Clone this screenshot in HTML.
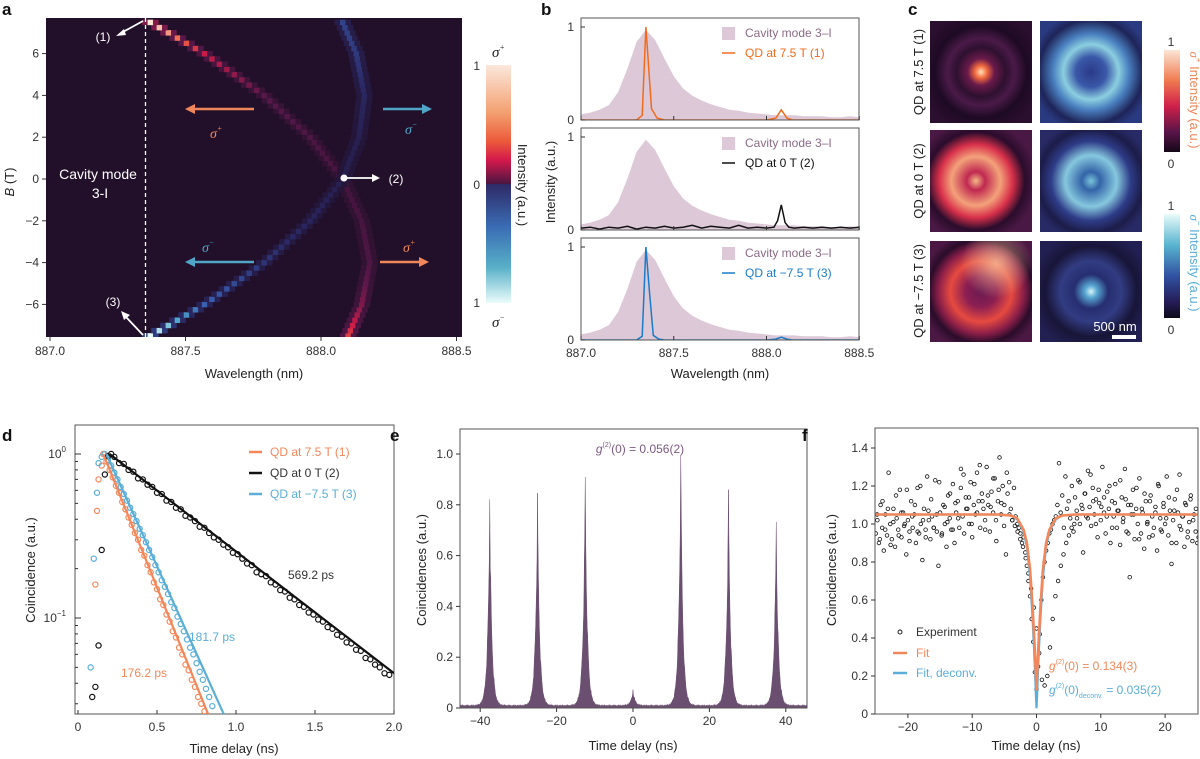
<!DOCTYPE html>
<html><head><meta charset="utf-8">
<style>
html,body{margin:0;padding:0;background:#fff;}
svg{display:block;font-family:"Liberation Sans","DejaVu Sans",sans-serif;}
.t{font-size:12px;fill:#333;}
.lab{font-size:13px;fill:#222;}
.pl{font-size:17px;font-weight:bold;fill:#111;}
</style></head>
<body>
<svg id="fig" width="1200" height="759" viewBox="0 0 1200 759" xmlns="http://www.w3.org/2000/svg">
<defs>
<linearGradient id="cbA" x1="0" y1="0" x2="0" y2="1">
<stop offset="0" stop-color="#fbe8dc"/><stop offset="0.2" stop-color="#f3a070"/><stop offset="0.32" stop-color="#ec5a3a"/><stop offset="0.4" stop-color="#d4184c"/><stop offset="0.5" stop-color="#4a1640"/><stop offset="0.5" stop-color="#2f2a66"/><stop offset="0.68" stop-color="#3a6cb4"/><stop offset="0.85" stop-color="#58b0c8"/><stop offset="1" stop-color="#eafcfb"/>
</linearGradient>
<linearGradient id="cbP" x1="0" y1="0" x2="0" y2="1">
<stop offset="0" stop-color="#fbe5d5"/><stop offset="0.3" stop-color="#f07a50"/><stop offset="0.55" stop-color="#d0204a"/><stop offset="0.8" stop-color="#5a1548"/><stop offset="1" stop-color="#140818"/>
</linearGradient>
<linearGradient id="cbM" x1="0" y1="0" x2="0" y2="1">
<stop offset="0" stop-color="#e8fbf9"/><stop offset="0.3" stop-color="#58b4d0"/><stop offset="0.6" stop-color="#3050a0"/><stop offset="0.85" stop-color="#251c55"/><stop offset="1" stop-color="#0c0a1a"/>
</linearGradient>
<radialGradient id="g11" cx="0.5" cy="0.5" r="0.6"><stop offset="0" stop-color="#ffe0b8"/><stop offset="0.1" stop-color="#f26a3e"/><stop offset="0.22" stop-color="#6a1a4a"/><stop offset="0.4" stop-color="#2e1030"/><stop offset="0.55" stop-color="#4a1a48"/><stop offset="0.75" stop-color="#1e0a24"/><stop offset="1" stop-color="#2a0f2e"/></radialGradient>
<radialGradient id="g12" cx="0.5" cy="0.5" r="0.6"><stop offset="0" stop-color="#2a3a88"/><stop offset="0.25" stop-color="#3a58a8"/><stop offset="0.45" stop-color="#8ccfe0"/><stop offset="0.62" stop-color="#4a80c0"/><stop offset="0.85" stop-color="#1e2458"/><stop offset="1" stop-color="#2a3a80"/></radialGradient>
<radialGradient id="g21" cx="0.45" cy="0.5" r="0.6"><stop offset="0" stop-color="#f5b888"/><stop offset="0.15" stop-color="#c02850"/><stop offset="0.4" stop-color="#f3a27a"/><stop offset="0.6" stop-color="#d8304a"/><stop offset="0.8" stop-color="#2a0c2c"/><stop offset="1" stop-color="#4a1844"/></radialGradient>
<radialGradient id="g22" cx="0.5" cy="0.5" r="0.6"><stop offset="0" stop-color="#78c4da"/><stop offset="0.15" stop-color="#3464a8"/><stop offset="0.42" stop-color="#86c8de"/><stop offset="0.65" stop-color="#2e3c88"/><stop offset="0.85" stop-color="#1c1c48"/><stop offset="1" stop-color="#282a66"/></radialGradient>
<radialGradient id="g31" cx="0.5" cy="0.5" r="0.6"><stop offset="0" stop-color="#6a1a50"/><stop offset="0.25" stop-color="#8a1e52"/><stop offset="0.5" stop-color="#e64a40"/><stop offset="0.7" stop-color="#8a1e48"/><stop offset="0.85" stop-color="#2a0c2a"/><stop offset="1" stop-color="#4a1842"/></radialGradient>
<radialGradient id="g31b" cx="0.65" cy="0.22" r="0.35"><stop offset="0" stop-color="#f8c09a" stop-opacity="0.8"/><stop offset="1" stop-color="#f8c09a" stop-opacity="0"/></radialGradient>
<radialGradient id="g32" cx="0.5" cy="0.5" r="0.6"><stop offset="0" stop-color="#d8f4f2"/><stop offset="0.1" stop-color="#58a8d4"/><stop offset="0.28" stop-color="#262e70"/><stop offset="0.5" stop-color="#323c82"/><stop offset="0.75" stop-color="#181538"/><stop offset="1" stop-color="#222052"/></radialGradient>
<clipPath id="clipA"><rect x="46" y="18" width="416" height="319"/></clipPath>
<clipPath id="clipB1"><rect x="581" y="18" width="278" height="102"/></clipPath>
<clipPath id="clipB2"><rect x="581" y="128" width="278" height="102"/></clipPath>
<clipPath id="clipB3"><rect x="581" y="238" width="278" height="102"/></clipPath>
<clipPath id="clipD"><rect x="75" y="425" width="319" height="289"/></clipPath>
<clipPath id="clipE"><rect x="460" y="429" width="347" height="279"/></clipPath>
<clipPath id="clipF"><rect x="875" y="428" width="323" height="286"/></clipPath>
</defs>

<!-- ============ Panel a ============ -->
<text class="pl" x="2" y="15">a</text>
<rect x="46" y="18" width="416" height="319" fill="#22102a"/>
<g id="heat" clip-path="url(#clipA)"></g>
<g id="aAxes"></g>
<line x1="145.5" y1="18" x2="145.5" y2="337" stroke="#fff" stroke-width="1.3" stroke-dasharray="4,3"/>
<text x="98" y="179" font-size="14" fill="#fff" text-anchor="middle">Cavity mode</text>
<text x="100" y="198" font-size="14" fill="#fff" text-anchor="middle">3-I</text>
<g>
<line x1="143" y1="21" x2="121" y2="33" stroke="#fff" stroke-width="1.8"/><polygon points="116,36 124,29 126,35" fill="#fff"/>
<text x="103" y="41" font-size="12" fill="#fff" text-anchor="middle">(1)</text></g>
<g>
<line x1="143" y1="335" x2="126" y2="317" stroke="#fff" stroke-width="1.8"/><polygon points="121,311 130,315 124,320" fill="#fff"/>
<text x="113" y="306" font-size="12" fill="#fff" text-anchor="middle">(3)</text></g>
<g>
<circle cx="344" cy="178" r="3.5" fill="#fff"/><line x1="344" y1="178" x2="373" y2="178" stroke="#fff" stroke-width="1.8"/><polygon points="380,178 372,174 372,182" fill="#fff"/>
<text x="396" y="183" font-size="12" fill="#fff" text-anchor="middle">(2)</text></g>
<g>
<line x1="254" y1="109" x2="193" y2="109" stroke="#f0875a" stroke-width="2.5"/><polygon points="185,109 195,104 195,114" fill="#f0875a"/>
<text x="210" y="138" font-size="14" font-style="italic" fill="#f0875a" font-family="Liberation Serif, serif">σ<tspan font-size="8" dy="-7">+</tspan></text>
<line x1="383" y1="109" x2="424" y2="109" stroke="#4fa6c6" stroke-width="2.5"/><polygon points="432,109 422,104 422,114" fill="#4fa6c6"/>
<text x="405" y="134" font-size="14" font-style="italic" fill="#4fa6c6" font-family="Liberation Serif, serif">σ<tspan font-size="8" dy="-7">−</tspan></text>
<line x1="254" y1="262" x2="193" y2="262" stroke="#4fa6c6" stroke-width="2.5"/><polygon points="185,262 195,257 195,267" fill="#4fa6c6"/>
<text x="202" y="252" font-size="14" font-style="italic" fill="#4fa6c6" font-family="Liberation Serif, serif">σ<tspan font-size="8" dy="-7">−</tspan></text>
<line x1="380" y1="262" x2="421" y2="262" stroke="#f0875a" stroke-width="2.5"/><polygon points="429,262 419,257 419,267" fill="#f0875a"/>
<text x="403" y="252" font-size="14" font-style="italic" fill="#f0875a" font-family="Liberation Serif, serif">σ<tspan font-size="8" dy="-7">+</tspan></text>
</g>
<text class="lab" x="254" y="378" text-anchor="middle">Wavelength (nm)</text>
<text class="lab" x="0" y="0" transform="translate(14,182) rotate(-90)" text-anchor="middle"><tspan font-style="italic">B</tspan> (T)</text>
<rect x="486" y="65" width="25" height="238" fill="url(#cbA)"/>
<text class="t" x="480" y="70" text-anchor="end">1</text>
<text class="t" x="480" y="189" text-anchor="end">0</text>
<text class="t" x="480" y="307" text-anchor="end">1</text>
<text x="492" y="57" font-size="15" font-style="italic" fill="#222" font-family="Liberation Serif, serif">σ<tspan font-size="8" dy="-7">+</tspan></text>
<text x="492" y="327" font-size="15" font-style="italic" fill="#222" font-family="Liberation Serif, serif">σ<tspan font-size="8" dy="-7">−</tspan></text>
<text class="lab" x="0" y="0" transform="translate(518,185) rotate(90)" text-anchor="middle">Intensity (a.u.)</text>

<!-- ============ Panel b ============ -->
<text class="pl" x="541" y="15">b</text>
<g id="bPlots"></g>
<text class="lab" x="720" y="378" text-anchor="middle">Wavelength (nm)</text>
<text class="lab" x="0" y="0" transform="translate(555,182) rotate(-90)" text-anchor="middle">Intensity (a.u.)</text>

<!-- ============ Panel c ============ -->
<text class="pl" x="908" y="15">c</text>
<g>
<rect x="930" y="21" width="102" height="102" fill="url(#g11)"/>
<rect x="1040" y="21" width="102" height="102" fill="url(#g12)"/>
<rect x="930" y="130" width="102" height="102" fill="url(#g21)"/>
<rect x="1040" y="130" width="102" height="102" fill="url(#g22)"/>
<rect x="930" y="241" width="102" height="101" fill="url(#g31)"/>
<rect x="930" y="241" width="102" height="101" fill="url(#g31b)"/>
<rect x="1040" y="241" width="102" height="101" fill="url(#g32)"/>
</g>
<text x="1115" y="331" font-size="13" fill="#fff" text-anchor="middle">500 nm</text>
<rect x="1112" y="335" width="24" height="4" fill="#fff"/>
<text class="lab" x="0" y="0" transform="translate(923,72) rotate(-90)" text-anchor="middle">QD at 7.5 T (1)</text>
<text class="lab" x="0" y="0" transform="translate(923,181) rotate(-90)" text-anchor="middle">QD at 0 T (2)</text>
<text class="lab" x="0" y="0" transform="translate(923,291) rotate(-90)" text-anchor="middle">QD at −7.5 T (3)</text>
<rect x="1164" y="50" width="16" height="102" fill="url(#cbP)"/>
<rect x="1164" y="214" width="16" height="104" fill="url(#cbM)"/>
<text class="t" x="1171" y="46" text-anchor="middle">1</text>
<text class="t" x="1171" y="168" text-anchor="middle">0</text>
<text class="t" x="1171" y="210" text-anchor="middle">1</text>
<text class="t" x="1171" y="334" text-anchor="middle">0</text>
<text x="0" y="0" transform="translate(1190,100) rotate(90)" text-anchor="middle" font-size="13" fill="#f0875a"><tspan font-style="italic" font-family="Liberation Serif, serif">σ</tspan><tspan font-size="8" dy="-6">+</tspan><tspan dy="6"> Intensity (a.u.)</tspan></text>
<text x="0" y="0" transform="translate(1190,263) rotate(90)" text-anchor="middle" font-size="13" fill="#5aaed8"><tspan font-style="italic" font-family="Liberation Serif, serif">σ</tspan><tspan font-size="8" dy="-6">−</tspan><tspan dy="6"> Intensity (a.u.)</tspan></text>

<!-- ============ Panel d ============ -->
<text class="pl" x="2" y="441">d</text>
<g id="dPlot"></g>
<text class="lab" x="234" y="753" text-anchor="middle">Time delay (ns)</text>
<text class="lab" x="0" y="0" transform="translate(35,570) rotate(-90)" text-anchor="middle">Coincidence (a.u.)</text>
<g>
<line x1="249" y1="452" x2="262" y2="452" stroke="#f4875a" stroke-width="2.5"/><text class="t" x="270" y="456" style="fill:#f4875a">QD at 7.5 T (1)</text>
<line x1="249" y1="473" x2="262" y2="473" stroke="#111" stroke-width="2.5"/><text class="t" x="270" y="477">QD at 0 T (2)</text>
<line x1="249" y1="494" x2="262" y2="494" stroke="#5aaed8" stroke-width="2.5"/><text class="t" x="270" y="498" style="fill:#5aaed8">QD at −7.5 T (3)</text>
</g>
<text class="t" x="288" y="579">569.2 ps</text>
<text class="t" x="189" y="641" style="fill:#5aaed8">181.7 ps</text>
<text class="t" x="121" y="677" style="fill:#f4875a">176.2 ps</text>

<!-- ============ Panel e ============ -->
<text class="pl" x="390" y="441">e</text>
<g id="ePlot"></g>
<text x="640" y="453" font-size="12" fill="#7a5a80" text-anchor="middle"><tspan font-style="italic">g</tspan><tspan font-size="7" dy="-6">(2)</tspan><tspan dy="6">(0) = 0.056(2)</tspan></text>
<text class="lab" x="633" y="750" text-anchor="middle">Time delay (ns)</text>
<text class="lab" x="0" y="0" transform="translate(426,570) rotate(-90)" text-anchor="middle">Coincidences (a.u.)</text>

<!-- ============ Panel f ============ -->
<text class="pl" x="802" y="441">f</text>
<g id="fPlot"></g>
<g>
<circle cx="900" cy="632" r="2" fill="none" stroke="#111" stroke-width="0.9"/><text class="t" x="916" y="636">Experiment</text>
<line x1="893" y1="653" x2="907" y2="653" stroke="#f4875a" stroke-width="2.5"/><text class="t" x="916" y="657" style="fill:#f4875a">Fit</text>
<line x1="893" y1="673" x2="907" y2="673" stroke="#5aaed8" stroke-width="2.5"/><text class="t" x="916" y="677" style="fill:#5aaed8">Fit, deconv.</text>
</g>
<text x="1049" y="670" font-size="12" fill="#f4875a"><tspan font-style="italic">g</tspan><tspan font-size="7" dy="-6">(2)</tspan><tspan dy="6">(0) = 0.134(3)</tspan></text>
<text x="1049" y="694" font-size="12" fill="#5aaed8"><tspan font-style="italic">g</tspan><tspan font-size="7" dy="-6">(2)</tspan><tspan dy="6">(0)</tspan><tspan font-size="7" dy="4">deconv.</tspan><tspan dy="-4"> = 0.035(2)</tspan></text>
<text class="lab" x="1036" y="750" text-anchor="middle">Time delay (ns)</text>
<text class="lab" x="0" y="0" transform="translate(836,570) rotate(-90)" text-anchor="middle">Coincidences (a.u.)</text>
</svg>

<script>
// ---------- Panel a data ----------
const aFieldB = [7.5, 6, 4, 2, 0, -2, -4, -6, -7.5];
const aLamPlus = [887.37, 887.57, 887.79, 887.96, 888.08, 888.15, 888.18, 888.15, 888.10];
const aLamMinus = [888.08, 888.13, 888.16, 888.14, 888.08, 887.96, 887.79, 887.57, 887.37];
const aIntPlus = [1.0, 0.55, 0.3, 0.24, 0.2, 0.2, 0.24, 0.38, 0.65];
const aIntMinus = [0.42, 0.38, 0.28, 0.2, 0.18, 0.26, 0.36, 0.55, 1.0];
const aXTicks = [887.0, 887.5, 888.0, 888.5];
const aYTicks = [6, 4, 2, 0, -2, -4, -6];
// ---------- Panel b data ----------
const bLam = [887.0,887.05,887.1,887.15,887.2,887.25,887.3,887.35,887.4,887.45,887.5,887.55,887.6,887.65,887.7,887.75,887.8,887.85,887.9,887.95,888.0,888.05,888.1,888.15,888.2,888.25,888.3,888.35,888.4,888.45,888.5];
const bCavity = [0.06,0.08,0.11,0.16,0.3,0.55,0.84,0.97,0.86,0.66,0.47,0.34,0.26,0.21,0.17,0.14,0.11,0.1,0.08,0.07,0.06,0.05,0.05,0.05,0.04,0.04,0.04,0.03,0.03,0.04,0.03];
const bQd1Lam = [887.0,887.3,887.33,887.35,887.38,887.41,887.45,888.0,888.05,888.08,888.11,888.14,888.5];
const bQd1Val = [0,0,0.05,1.0,0.12,0.02,0,0,0.02,0.11,0.02,0,0];
const bQd2Lam = [887.0,887.05,887.1,887.15,887.2,887.25,887.3,887.35,887.4,887.45,887.5,887.55,887.6,887.65,887.7,887.75,887.8,887.85,887.9,887.95,888.0,888.04,888.06,888.08,888.1,888.12,888.15,888.2,888.25,888.3,888.35,888.4,888.45,888.5];
const bQd2Val = [0.02,0.03,0.01,0.03,0.02,0.04,0.01,0.03,0.02,0.04,0.02,0.03,0.05,0.02,0.04,0.03,0.02,0.05,0.02,0.03,0.02,0.03,0.1,0.27,0.08,0.03,0.02,0.03,0.02,0.03,0.02,0.03,0.02,0.03];
const bQd3Lam = [887.0,887.3,887.33,887.35,887.37,887.39,887.42,887.45,888.0,888.05,888.08,888.11,888.14,888.5];
const bQd3Val = [0,0,0.04,1.0,0.5,0.05,0.01,0,0,0.01,0.03,0.01,0,0];
const bXTicks = [887.0, 887.5, 888.0, 888.5];
// ---------- Panel d data ----------
const dBlackRiseT = [0.09, 0.11, 0.13, 0.15, 0.17, 0.19, 0.21];
const dBlackRiseV = [0.033, 0.038, 0.068, 0.26, 0.75, 0.97, 1.0];
const dBlackDecay = [.96,.88,.87,.80,.78,.71,.70,.65,.63,.58,.57,.52,.51,.47,.46,.42,.41,.39,.36,.355,.33,.31,.30,.28,.27,.25,.245,.23,.215,.21,.19,.185,.18,.165,.16,.148,.145,.133,.13,.12,.117,.108,.105,.098,.095,.088,.086,.079,.077,.071,.07,.064,.063,.057,.056,.052,.05,.046,.045];
const dOrangeRiseT = [0.11, 0.12, 0.13, 0.15, 0.16];
const dOrangeRiseV = [0.16, 0.45, 0.7, 0.85, 1.0];
const dOrangeDecay = [.9,.8,.72,.64,.58,.51,.46,.41,.37,.33,.30,.26,.24,.21,.19,.165,.15,.13,.12,.105,.095,.083,.076,.066,.06,.052,.048,.042,.038,.033,.03,.027];
const dBlueRiseT = [0.08, 0.1, 0.12, 0.13, 0.15, 0.17];
const dBlueRiseV = [0.05, 0.23, 0.58, 0.88, 0.96, 1.0];
const dBlueDecay = [.92,.85,.77,.7,.63,.57,.52,.47,.43,.39,.35,.32,.29,.26,.235,.21,.19,.17,.155,.14,.125,.115,.102,.092,.083,.074,.066,.06,.053,.047,.042,.037,.033,.029];
const dFitBlackT = [0.2, 2.0], dFitBlackV = [1.0, 0.046];
const dFitOrangeT = [0.16, 0.83], dFitOrangeV = [1.0, 0.025];
const dFitBlueT = [0.18, 0.93], dFitBlueV = [1.0, 0.025];
const dXTicks = [0, 0.5, 1.0, 1.5, 2.0];
// ---------- Panel e data ----------
const ePeakT = [-37.5, -25, -12.5, 0, 12.5, 25, 37.5];
const ePeakH = [0.81, 0.84, 0.90, 0.06, 0.99, 0.85, 0.72];
const eYTicks = [0, 0.2, 0.4, 0.6, 0.8, 1.0];
const eXTicks = [-40, -20, 0, 20, 40];
// ---------- Panel f data ----------
const fExp = [0.95,1.02,0.90,1.10,0.98,0.86,1.05,0.94,1.27,1.00,0.92,1.08,0.88,1.03,0.97,1.18,0.93,1.06,1.00,0.84,
1.02,0.96,1.12,0.98,1.05,0.90,1.19,0.95,1.00,0.81,1.08,0.97,1.25,1.02,0.92,1.04,0.98,1.23,0.96,0.78,
1.06,0.94,1.10,1.00,0.88,1.15,1.03,0.97,1.21,0.90,1.06,1.12,0.98,1.29,1.04,0.95,1.14,1.08,1.00,1.22,
0.93,1.10,1.05,1.27,1.12,0.98,1.16,1.08,1.02,1.30,1.10,0.96,1.17,1.06,1.24,0.91,1.12,1.35,1.05,1.20,
1.10,0.84,1.16,1.22,1.08,1.02,1.19,1.04,
1.00,0.98,0.95,0.90,0.93,0.85,0.78,0.70,0.62,0.50,0.38,0.22,0.13,0.25,0.42,0.60,0.72,0.80,0.86,0.90,0.95,0.97,1.00,1.02,1.04,
1.10,1.32,1.06,1.15,0.98,1.25,1.08,1.12,1.03,1.20,0.96,1.14,1.07,1.23,1.00,1.10,0.85,1.16,1.04,1.28,
1.09,0.99,1.19,1.05,1.13,0.93,1.11,1.02,1.30,1.06,0.95,1.17,1.08,0.90,1.12,1.04,1.21,0.98,1.07,0.89,
1.14,1.03,1.29,0.96,1.10,0.72,1.05,1.18,0.92,1.08,1.00,1.24,0.95,1.06,0.87,1.12,1.01,0.93,1.15,1.04,
0.98,1.09,0.86,1.20,1.03,0.96,1.11,1.00,1.25,0.94,1.07,0.79,1.02,1.13,0.90,1.06,1.26,0.97,1.04,0.88,
1.10,0.93,1.01,1.15,0.91,1.05,0.96,0.90];
const fExp2 = [1.05,0.92,1.12,0.97,1.08,0.89,1.01,1.15,0.94,1.06,0.99,1.18,0.91,1.04,1.10,0.96,1.20,1.02,0.93,1.07,
1.13,0.98,1.05,1.22,0.95,1.09,1.01,1.16,0.97,1.11,1.03,1.19,1.26,1.08,1.14,1.00,1.21,1.06,1.31,1.12,
0.97,1.15,1.09,1.24,1.02,1.18,1.11,0.99,1.27,1.05,
1.02,0.99,0.96,0.92,0.88,0.82,0.74,0.66,0.56,0.45,0.32,0.18,0.15,0.2,0.35,0.5,0.62,0.7,0.78,0.84,0.9,0.94,0.98,1.0,1.03,
1.22,1.08,1.16,1.03,1.26,1.12,1.00,1.18,1.09,1.14,1.04,1.20,0.98,1.11,1.07,1.23,1.01,1.13,0.95,1.10,
1.05,1.19,0.92,1.08,1.16,1.00,1.12,0.94,1.06,1.21,0.97,1.09,1.03,1.14,0.90,1.07,1.18,0.99,1.04,1.11,
0.96,1.13,1.02,1.08,0.93];
const fFitT = [-25,-6,-4,-3,-2,-1.5,-1,-0.6,-0.3,0,0.3,0.6,1,1.5,2,3,4,6,25];
const fFitV = [1.05,1.05,1.045,1.03,0.97,0.9,0.76,0.56,0.36,0.13,0.36,0.56,0.76,0.9,0.97,1.03,1.045,1.05,1.05];
const fDecT = [-25,-6,-4,-3,-2,-1.5,-1,-0.6,-0.3,-0.1,0,0.1,0.3,0.6,1,1.5,2,3,4,6,25];
const fDecV = [1.05,1.05,1.045,1.025,0.96,0.88,0.72,0.5,0.28,0.1,0.035,0.1,0.28,0.5,0.72,0.88,0.96,1.025,1.045,1.05,1.05];
const fYTicks = [0, 0.2, 0.4, 0.6, 0.8, 1.0, 1.2, 1.4];
const fXTicks = [-20, -10, 0, 10, 20];

const NS = 'http://www.w3.org/2000/svg';
function mk(tag, attrs, parent) {
  const el = document.createElementNS(NS, tag);
  for (const k in attrs) el.setAttribute(k, attrs[k]);
  parent.appendChild(el);
  return el;
}
function interp(xs, ys, x) {
  const asc = xs[xs.length-1] > xs[0];
  for (let i = 0; i < xs.length-1; i++) {
    const a = xs[i], b = xs[i+1];
    if ((asc && x >= a && x <= b) || (!asc && x <= a && x >= b)) {
      const f = (x - a) / (b - a); return ys[i] + f*(ys[i+1]-ys[i]);
    }
  }
  return asc ? (x < xs[0] ? ys[0] : ys[ys.length-1]) : (x > xs[0] ? ys[0] : ys[ys.length-1]);
}
function lerpColor(stops, v) {
  v = Math.max(0, Math.min(1, v));
  for (let i = 0; i < stops.length-1; i++) {
    if (v <= stops[i+1][0]) {
      const f = (v - stops[i][0])/(stops[i+1][0]-stops[i][0]);
      const c = stops[i][1].map((c0, j) => Math.round(c0 + f*(stops[i+1][1][j]-c0)));
      return 'rgb(' + c.join(',') + ')';
    }
  }
  return 'rgb(' + stops[stops.length-1][1].join(',') + ')';
}
const cmapPlus = [[0,[34,16,42]],[0.3,[88,24,74]],[0.55,[200,28,72]],[0.75,[238,100,70]],[1,[252,230,215]]];
const cmapMinus = [[0,[34,16,42]],[0.3,[42,40,100]],[0.55,[58,96,178]],[0.78,[80,170,205]],[1,[230,250,248]]];

// ---------- Panel a ----------
(function(){
  const ax = l => 50 + (l - 887) * 271;
  const ay = B => 179 - B * 20.9;
  const g = document.getElementById('heat');
  const cw = 5.4, rh = 5.2;
  for (let B = -7.5; B <= 7.51; B += 0.25) {
    [[aLamPlus, aIntPlus, cmapPlus], [aLamMinus, aIntMinus, cmapMinus]].forEach(([lam, inten, cm]) => {
      const l = interp(aFieldB, lam, B);
      const I = interp(aFieldB, inten, B);
      const cx = ax(l);
      [[-1, 0.4], [0, 1], [1, 0.4]].forEach(([off, w]) => {
        const r = mk('rect', {x: cx - cw/2 + off*cw, y: ay(B) - rh/2, width: cw + 0.3, height: rh + 0.3, fill: lerpColor(cm, I*w)}, g);
        
        
      });
    });
  }
  const axes = document.getElementById('aAxes');
  aXTicks.forEach(v => {
    mk('line', {x1: ax(v), y1: 337, x2: ax(v), y2: 341, stroke: '#333'}, axes);
    const t = mk('text', {x: ax(v), y: 355, class: 't', 'text-anchor': 'middle'}, axes);
    t.textContent = v.toFixed(1);
    
    
  });
  aYTicks.forEach(v => {
    mk('line', {x1: 42, y1: ay(v), x2: 46, y2: ay(v), stroke: '#333'}, axes);
    const t = mk('text', {x: 39, y: ay(v) + 4, class: 't', 'text-anchor': 'end'}, axes);
    t.textContent = v < 0 ? '−' + Math.abs(v) : String(v);
    
    
  });
})();

// ---------- Panel b ----------
(function(){
  const bx = l => 581 + (l - 887) * 185.5;
  const bases = [120, 230, 340];
  const g = document.getElementById('bPlots');
  const series = [[bQd1Lam, bQd1Val, '#f26b1d', 'QD at 7.5 T (1)'], [bQd2Lam, bQd2Val, '#111', 'QD at 0 T (2)'], [bQd3Lam, bQd3Val, '#1a7cc9', 'QD at −7.5 T (3)']];
  series.forEach((s, i) => {
    const base = bases[i];
    const by = v => base - v * 93;
    const sub = mk('g', {'clip-path': 'url(#clipB' + (i+1) + ')'}, g);
    
    
    let d = 'M' + bx(bLam[0]) + ',' + base;
    bLam.forEach((l, j) => { d += ' L' + bx(l).toFixed(1) + ',' + by(bCavity[j]).toFixed(1); });
    d += ' L' + bx(bLam[bLam.length-1]) + ',' + base + ' Z';
    const area = mk('path', {d: d, fill: '#dcc8d6'}, sub);
    
    
    let p = '';
    s[0].forEach((l, j) => { p += (j ? ' L' : 'M') + bx(l).toFixed(1) + ',' + by(s[1][j]).toFixed(1); });
    const line = mk('path', {d: p, fill: 'none', stroke: s[2], 'stroke-width': 1.5}, sub);
    
    
    const frame = mk('rect', {x: 581, y: base - 102, width: 278, height: 102, fill: 'none', stroke: '#555', 'stroke-width': 1}, g);
    
    
    bXTicks.forEach(v => mk('line', {x1: bx(v), y1: base, x2: bx(v), y2: base - 4, stroke: '#333'}, g));
    [[1, '1'], [0, '0']].forEach(([v, lab]) => {
      mk('line', {x1: 581, y1: by(v), x2: 585, y2: by(v), stroke: '#333'}, g);
      const t = mk('text', {x: 574, y: by(v) + 4, class: 't', 'text-anchor': 'end'}, g);
      t.textContent = lab;
      
      
    });
    const ly = base - 87;
    const sq = mk('rect', {x: 722, y: ly - 6, width: 13, height: 13, fill: '#dcc8d6'}, g);
    
    
    const t1 = mk('text', {x: 745, y: ly + 4, class: 't', style: 'fill:#8a6c86'}, g);
    t1.textContent = 'Cavity mode 3–I';
    
    
    mk('line', {x1: 722, y1: ly + 20, x2: 735, y2: ly + 20, stroke: s[2], 'stroke-width': 1.5}, g);
    const t2 = mk('text', {x: 745, y: ly + 24, class: 't', style: 'fill:' + s[2]}, g);
    t2.textContent = s[3];
    
    
  });
  bXTicks.forEach(v => {
    const t = mk('text', {x: bx(v), y: 357, class: 't', 'text-anchor': 'middle'}, g);
    t.textContent = v.toFixed(1);
    
    
  });
})();

// ---------- Panel d ----------
(function(){
  const dx = t => 78 + t * 158;
  const dy = v => 454 - Math.log10(v) * 164;
  const g = document.getElementById('dPlot');
  mk('rect', {x: 75, y: 425, width: 319, height: 289, fill: 'none', stroke: '#555'}, g);
  const inner = mk('g', {'clip-path': 'url(#clipD)'}, g);
  function pts(riseT, riseV, decay, t0, step, color) {
    const all = riseT.map((t, i) => [t, riseV[i]]).concat(decay.map((v, i) => [t0 + i*step, v]));
    all.forEach(([t, v]) => {
      const c = mk('circle', {cx: dx(t), cy: dy(v), r: 2.6, fill: 'none', stroke: color, 'stroke-width': 1.2}, inner);
      
      
    });
  }
  pts(dOrangeRiseT, dOrangeRiseV, dOrangeDecay, 0.18, 0.02, '#f4875a');
  pts(dBlueRiseT, dBlueRiseV, dBlueDecay, 0.19, 0.02, '#5aaed8');
  pts(dBlackRiseT, dBlackRiseV, dBlackDecay, 0.23, 0.03, '#111');
  [[dFitOrangeT, dFitOrangeV, '#f4875a'], [dFitBlueT, dFitBlueV, '#5aaed8'], [dFitBlackT, dFitBlackV, '#111']].forEach(([T, V, c]) => {
    const l = mk('line', {x1: dx(T[0]), y1: dy(V[0]), x2: dx(T[1]), y2: dy(V[1]), stroke: c, 'stroke-width': 2.2}, inner);
    
    
  });
  dXTicks.forEach(v => {
    mk('line', {x1: dx(v), y1: 714, x2: dx(v), y2: 710, stroke: '#333'}, g);
    const t = mk('text', {x: dx(v), y: 731, class: 't', 'text-anchor': 'middle'}, g);
    t.textContent = v === 0 ? '0' : v.toFixed(1);
    
    
  });
  [1, 0.1].forEach((v, k) => {
    mk('line', {x1: 75, y1: dy(v), x2: 81, y2: dy(v), stroke: '#333'}, g);
    const t = mk('text', {x: 66, y: dy(v) + 4, class: 't', 'text-anchor': 'end'}, g);
    t.innerHTML = '10<tspan font-size="8" dy="-6">' + (k === 0 ? '0' : '−1') + '</tspan>';
    
    
  });
  [0.03, 0.04, 0.05, 0.06, 0.07, 0.08, 0.09, 0.2, 0.3, 0.4, 0.5, 0.6, 0.7, 0.8, 0.9].forEach(v => {
    mk('line', {x1: 75, y1: dy(v), x2: 78, y2: dy(v), stroke: '#333'}, g);
  });
})();

// ---------- Panel e ----------
(function(){
  const ex = t => 633 + t * 3.82;
  const ey = v => 708 - v * 254;
  const g = document.getElementById('ePlot');
  const inner = mk('g', {'clip-path': 'url(#clipE)'}, g);
  let d = 'M' + ex(-47) + ',' + ey(0);
  for (let k = 0; k <= 752; k++) {
    const t = -47 + k * 0.125;
    let v = 0.006 + 0.008 * ((k * 37) % 11) / 11;
    ePeakT.forEach((c, i) => {
      const w = Math.abs(t - c);
      const jitter = w < 0.01 ? 1 : (0.85 + 0.15 * ((k * 13) % 7) / 7);
      v += ePeakH[i] * Math.exp(-w / 0.55) * jitter;
    });
    d += ' L' + ex(t).toFixed(2) + ',' + ey(v).toFixed(2);
  }
  d += ' L' + ex(47) + ',' + ey(0) + ' Z';
  const area = mk('path', {d: d, fill: '#6b4f70', stroke: '#6b4f70', 'stroke-width': 0.5}, inner);
  
  
  mk('rect', {x: 460, y: 429, width: 347, height: 279, fill: 'none', stroke: '#555'}, g);
  eXTicks.forEach(v => {
    mk('line', {x1: ex(v), y1: 708, x2: ex(v), y2: 712, stroke: '#333'}, g);
    const t = mk('text', {x: ex(v), y: 725, class: 't', 'text-anchor': 'middle'}, g);
    t.textContent = v < 0 ? '−' + Math.abs(v) : String(v);
    
    
  });
  eYTicks.forEach(v => {
    mk('line', {x1: 456, y1: ey(v), x2: 460, y2: ey(v), stroke: '#333'}, g);
    const t = mk('text', {x: 453, y: ey(v) + 4, class: 't', 'text-anchor': 'end'}, g);
    t.textContent = v === 0 ? '0' : v.toFixed(1);
    
    
  });
})();

// ---------- Panel f ----------
(function(){
  const fx = t => 1036.5 + t * 6.43;
  const fy = v => 714 - v * 190;
  const g = document.getElementById('fPlot');
  const inner = mk('g', {'clip-path': 'url(#clipF)'}, g);
  [fExp, fExp2].forEach((arr, s) => {
    const n = arr.length;
    arr.forEach((v, i) => {
      const t = -25 + (i + s * 0.5) * 50 / (n - 1);
      const c = mk('circle', {cx: fx(t), cy: fy(v), r: 1.8, fill: 'none', stroke: '#111', 'stroke-width': 0.8}, inner);
      
      
    });
  });
  [[fDecT, fDecV, '#5aaed8', 2.2], [fFitT, fFitV, '#f4875a', 2.6]].forEach(([T, V, c, w]) => {
    let p = '';
    T.forEach((t, i) => { p += (i ? ' L' : 'M') + fx(t).toFixed(1) + ',' + fy(V[i]).toFixed(1); });
    const l = mk('path', {d: p, fill: 'none', stroke: c, 'stroke-width': w, 'stroke-linejoin': 'round'}, inner);
    
    
  });
  mk('rect', {x: 875, y: 428, width: 323, height: 286, fill: 'none', stroke: '#555'}, g);
  fXTicks.forEach(v => {
    mk('line', {x1: fx(v), y1: 714, x2: fx(v), y2: 718, stroke: '#333'}, g);
    const t = mk('text', {x: fx(v), y: 731, class: 't', 'text-anchor': 'middle'}, g);
    t.textContent = v < 0 ? '−' + Math.abs(v) : String(v);
    
    
  });
  fYTicks.forEach(v => {
    mk('line', {x1: 871, y1: fy(v), x2: 875, y2: fy(v), stroke: '#333'}, g);
    const t = mk('text', {x: 868, y: fy(v) + 4, class: 't', 'text-anchor': 'end'}, g);
    t.textContent = v === 0 ? '0' : v.toFixed(1);
    
    
  });
})();
</script>
</body></html>
